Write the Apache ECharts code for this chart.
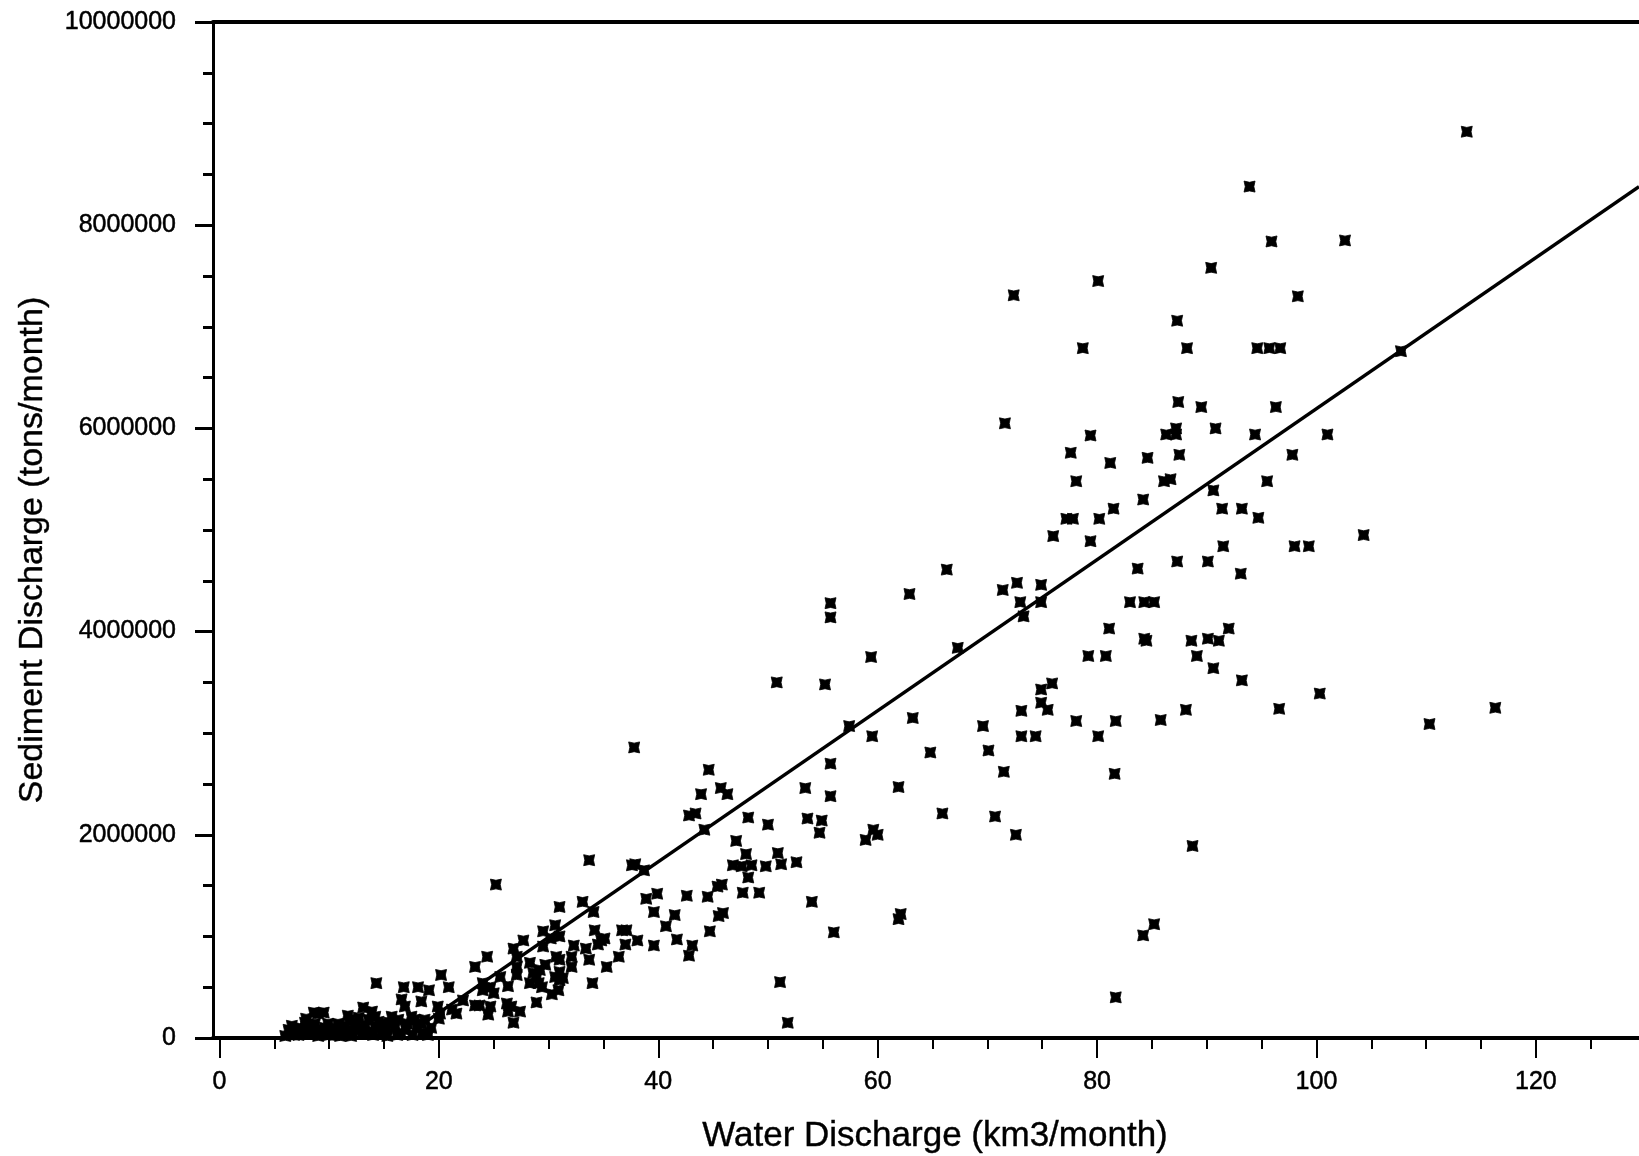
<!DOCTYPE html>
<html><head><meta charset="utf-8">
<script src="https://cdn.jsdelivr.net/npm/echarts@6/dist/echarts.min.js"></script>
<style>html,body{margin:0;padding:0;background:#fff}#chart{width:1639px;height:1156px}</style>
</head><body><div id="chart"></div>
<script>
// Water discharge (km3/month)
const waterDischarge = [
  6.0,6.3,6.6,6.8,7.0,7.3,7.5,7.8,7.9,8.3,8.4,8.6,8.7,9.0,9.0,9.5,9.6,9.9,10.0,10.2,10.7,10.8,11.0,11.1,11.4,11.7,11.9,12.1,12.3,12.5,12.8,13.1,13.3,13.6,13.6,13.9,14.2,14.2,14.3,14.8,14.8,15.2,15.3,15.7,16.0,16.3,16.5,16.6,16.9,16.8,17.1,17.5,17.6,18.0,18.1,18.4,18.4,18.7,19.1,19.3,19.9,20.1,20.0,20.2,20.9,21.2,21.6,22.2,
  6.5,7.2,8.0,8.9,9.3,10.4,10.5,11.5,12.0,12.7,13.0,14.0,14.5,15.0,15.5,16.2,17.0,17.8,18.5,19.0,
  23.3,23.3,23.7,24.0,24.0,24.4,24.5,24.7,24.7,25.0,25.2,25.6,26.2,26.3,26.3,26.6,26.8,26.8,27.1,27.1,27.1,27.4,27.7,28.3,28.6,28.3,28.9,29.1,28.9,29.2,29.5,29.5,29.7,29.4,30.3,30.6,31.0,31.0,30.2,30.7,31.0,30.6,31.0,31.3,30.9,31.0,32.1,32.1,32.3,33.1,33.7,33.4,33.7,34.0,34.1,34.2,34.5,34.8,35.1,35.3,36.4,36.7,37.1,37.0,37.6,37.9,37.8,38.1,38.7,38.9,39.9,39.6,39.6,
  40.7,41.5,41.7,42.6,42.8,43.1,42.8,43.4,43.9,44.2,44.5,44.6,44.7,45.4,45.8,45.5,45.9,45.7,46.3,46.8,47.1,47.6,47.7,48.0,48.2,48.2,48.5,49.2,49.8,50.0,50.8,50.9,51.2,51.1,51.8,52.6,53.4,53.6,54.0,54.7,54.9,55.2,55.7,55.7,55.7,55.7,56.0,57.4,58.9,59.4,59.5,59.6,60.0,61.9,61.9,62.1,62.9,63.2,64.8,65.9,66.3,67.3,69.6,
  70.1,70.7,71.4,71.5,71.6,72.4,72.6,72.7,73.0,73.1,73.1,73.3,74.4,74.9,74.9,74.9,74.9,75.5,75.9,76.0,77.2,77.6,77.8,78.1,78.1,78.7,79.2,79.4,79.4,80.1,80.1,80.2,80.8,81.1,81.2,81.5,81.6,81.7,81.7,83.0,83.7,84.2,84.2,84.3,84.3,84.5,84.6,85.2,85.2,85.8,86.1,86.3,86.7,87.2,87.2,87.3,87.3,87.4,87.5,88.1,88.2,88.6,88.7,89.1,89.5,90.1,90.1,90.4,90.6,90.6,90.8,91.1,91.4,91.5,92.0,93.1,93.2,93.2,93.9,94.4,94.6,94.7,95.5,95.7,95.9,96.3,96.6,96.7,97.8,98.0,98.3,99.3,100.3,101.0,102.6,104.3,107.7,110.3,113.7,116.3
];
// Sediment discharge (tons/month)
const sedimentDischarge = [
  20000,80000,120000,30000,60000,100000,60000,150000,190000,100000,50000,250000,140000,240000,20000,250000,100000,140000,30000,60000,60000,140000,20000,100000,60000,220000,180000,50000,120000,140000,80000,300000,120000,180000,60000,260000,210000,110000,540000,140000,60000,110000,20000,210000,110000,180000,50000,380000,310000,500000,140000,210000,30000,100000,500000,360000,140000,180000,470000,100000,310000,240000,190000,620000,500000,280000,240000,370000,
  40000,30000,50000,80000,50000,100000,30000,120000,20000,200000,40000,30000,160000,80000,150000,30000,80000,180000,50000,30000,
  700000,320000,320000,540000,470000,800000,230000,310000,500000,440000,1510000,600000,340000,510000,260000,310000,880000,150000,800000,700000,620000,260000,960000,740000,640000,540000,600000,540000,350000,670000,1050000,900000,720000,500000,430000,1110000,1290000,1000000,980000,800000,770000,600000,570000,590000,470000,650000,800000,700000,910000,1340000,1750000,880000,770000,540000,1240000,1060000,920000,960000,980000,700000,800000,1060000,1060000,920000,1700000,1710000,2860000,960000,1650000,1370000,1420000,1240000,910000,
  1100000,1210000,970000,1400000,810000,910000,2190000,2210000,2400000,2050000,1390000,2640000,1050000,1490000,1510000,1200000,1230000,2460000,2400000,1700000,1940000,1690000,1430000,1810000,2170000,1580000,1700000,1430000,1690000,2100000,3500000,1820000,1710000,550000,150000,1730000,2460000,2160000,1340000,2020000,2140000,3480000,4280000,4140000,2700000,2380000,1040000,3070000,1950000,3750000,2970000,2050000,2000000,2470000,1170000,1220000,4370000,3150000,2810000,2210000,4610000,3840000,3070000,
  2830000,2180000,4410000,2620000,6050000,7310000,2000000,4480000,4290000,2970000,3220000,4150000,2970000,4460000,4290000,3430000,3300000,3230000,3490000,4940000,5110000,5760000,5110000,5480000,3120000,6790000,3760000,5930000,4890000,7450000,2970000,5110000,3760000,4030000,5660000,5210000,2600000,3120000,400000,4290000,4620000,5300000,1010000,4290000,3930000,3910000,5710000,4290000,1120000,3130000,5480000,5940000,5500000,5940000,6000000,7060000,4690000,6260000,5740000,3230000,6790000,3910000,1890000,3760000,6210000,4690000,3930000,7580000,5390000,3640000,6000000,3910000,5210000,4840000,4030000,4570000,5210000,3520000,8380000,5940000,6790000,5120000,5480000,6790000,7840000,6210000,3240000,6790000,5740000,4840000,7300000,4840000,3390000,5940000,7850000,4950000,6760000,3090000,8920000,3250000
];
// Regression line end points
const fitLineX = [18.0, 129.4];
const fitLineY = [100000, 8380000];
// Tick values
const xTickValues = [0, 20, 40, 60, 80, 100, 120];
const xMinorTickValues = [5,10,15,25,30,35,45,50,55,65,70,75,85,90,95,105,110,115,125];
const yTickValues = [0, 2000000, 4000000, 6000000, 8000000, 10000000];

const FONT = 'Liberation Sans, Arial, Helvetica, sans-serif';
const markerPath = 'path://M0,0 L5,1.1 L10,0 L8.9,5 L10,10 L5,8.9 L0,10 L1.1,5 Z';
const scatterData = waterDischarge.map((x, i) => [x, sedimentDischarge[i]]);
const fitData = fitLineX.map((x, i) => [x, fitLineY[i]]);
const X_MIN = -0.59, X_MAX = 129.4;
const labelStyle = {color: '#000', fontSize: 25, fontFamily: FONT, textBorderColor: '#000', textBorderWidth: 0.5};

const chart = echarts.init(document.getElementById('chart'), null, {renderer: 'canvas'});
chart.setOption({
  animation: false,
  backgroundColor: '#ffffff',
  grid: {left: 213, right: 0, top: 22, bottom: 118, containLabel: false, outerBoundsMode: 'none'},
  xAxis: [
    {
      type: 'value', min: X_MIN, max: X_MAX, position: 'bottom',
      axisLine: {show: true, onZero: false, lineStyle: {color: '#000', width: 4}},
      axisTick: {show: true, customValues: xTickValues, length: 20, lineStyle: {color: '#000', width: 2}},
      axisLabel: Object.assign({customValues: xTickValues, margin: 32}, labelStyle),
      splitLine: {show: false},
      name: 'Water Discharge (km3/month)', nameLocation: 'middle', nameGap: 81,
      nameTextStyle: {color: '#000', fontSize: 35, fontFamily: FONT, padding: [0, 0, 0, 18],
        textBorderColor: '#000', textBorderWidth: 0.4}
    },
    {
      type: 'value', min: X_MIN, max: X_MAX, position: 'bottom',
      axisLine: {show: false, onZero: false},
      axisTick: {show: true, customValues: xMinorTickValues, length: 11, lineStyle: {color: '#000', width: 2}},
      axisLabel: {show: false}, splitLine: {show: false}
    },
    {
      type: 'value', min: X_MIN, max: X_MAX, position: 'top',
      axisLine: {show: true, onZero: false, lineStyle: {color: '#000', width: 4}},
      axisTick: {show: false}, axisLabel: {show: false}, splitLine: {show: false}
    }
  ],
  yAxis: {
    type: 'value', min: yTickValues[0], max: yTickValues[yTickValues.length - 1], interval: 2000000,
    axisLine: {show: true, onZero: false, lineStyle: {color: '#000', width: 3}},
    axisTick: {show: true, length: 18, lineStyle: {color: '#000', width: 3}},
    minorTick: {show: true, splitNumber: 4, length: 10, lineStyle: {color: '#000', width: 3}},
    axisLabel: Object.assign({margin: 37, formatter: v => String(v)}, labelStyle),
    splitLine: {show: false}, minorSplitLine: {show: false},
    name: 'Sediment Discharge (tons/month)', nameLocation: 'middle', nameGap: 163,
    nameTextStyle: {color: '#000', fontSize: 34, fontFamily: FONT, padding: [0, 40, 0, 0],
      textBorderColor: '#000', textBorderWidth: 0.4}
  },
  series: [
    {
      type: 'line', xAxisIndex: 0, yAxisIndex: 0, data: fitData, symbol: 'none',
      lineStyle: {color: '#000', width: 3.5}, z: 2, silent: true
    },
    {
      type: 'scatter', xAxisIndex: 0, yAxisIndex: 0, data: scatterData,
      symbol: markerPath, symbolSize: 11,
      itemStyle: {color: '#000', borderColor: '#000', borderWidth: 0.8, opacity: 1}, z: 3
    }
  ]
});
</script>
</body></html>
